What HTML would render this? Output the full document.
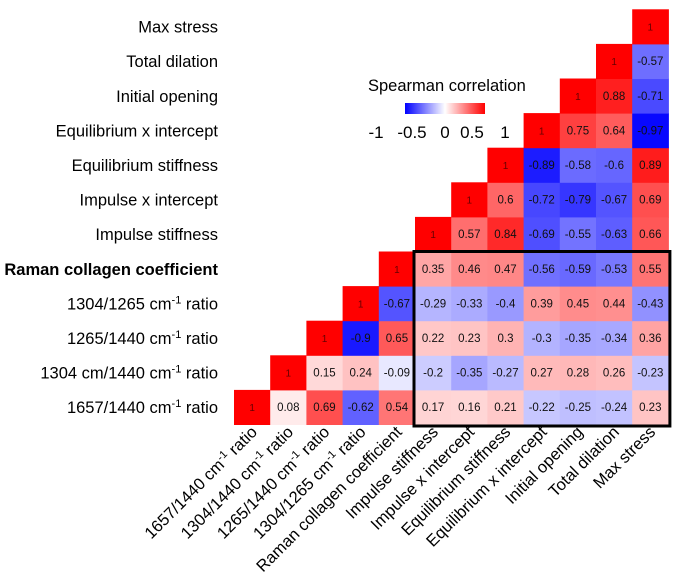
<!DOCTYPE html>
<html><head><meta charset="utf-8"><style>
body{margin:0;background:#fff}
svg{display:block;font-family:"Liberation Sans",Arial,sans-serif}
</style></head><body>
<svg id="chart" width="675" height="585" viewBox="0 0 675 585" xmlns="http://www.w3.org/2000/svg"></svg>
<script>
const variables = [
 ["1657/1440 cm","-1"," ratio"],
 ["1304 cm/1440 cm","-1"," ratio"],
 ["1265/1440  cm","-1"," ratio"],
 ["1304/1265 cm","-1"," ratio"],
 ["Raman collagen coefficient","",""],
 ["Impulse stiffness","",""],
 ["Impulse x intercept","",""],
 ["Equilibrium stiffness","",""],
 ["Equilibrium x intercept","",""],
 ["Initial opening","",""],
 ["Total dilation","",""],
 ["Max stress","",""]
];
const colLabels = [
 ["1657/1440 cm","-1"," ratio"],
 ["1304/1440 cm","-1"," ratio"],
 ["1265/1440 cm","-1"," ratio"],
 ["1304/1265 cm","-1"," ratio"],
 ["Raman collagen coefficient","",""],
 ["Impulse stiffness","",""],
 ["Impulse x intercept","",""],
 ["Equilibrium stiffness","",""],
 ["Equilibrium x intercept","",""],
 ["Initial opening","",""],
 ["Total dilation","",""],
 ["Max stress","",""]
];
const r0 = [1,0.08,0.69,-0.62,0.54,0.17,0.16,0.21,-0.22,-0.25,-0.24,0.23];
const r1 = [1,0.15,0.24,-0.09,-0.2,-0.35,-0.27,0.27,0.28,0.26,-0.23];
const r2 = [1,-0.9,0.65,0.22,0.23,0.3,-0.3,-0.35,-0.34,0.36];
const r3 = [1,-0.67,-0.29,-0.33,-0.4,0.39,0.45,0.44,-0.43];
const r4 = [1,0.35,0.46,0.47,-0.56,-0.59,-0.53,0.55];
const r5 = [1,0.57,0.84,-0.69,-0.55,-0.63,0.66];
const r6 = [1,0.6,-0.72,-0.79,-0.67,0.69];
const r7 = [1,-0.89,-0.58,-0.6,0.89];
const r8 = [1,0.75,0.64,-0.97];
const r9 = [1,0.88,-0.71];
const r10 = [1,-0.57];
const r11 = [1];
const rows = [r0,r1,r2,r3,r4,r5,r6,r7,r8,r9,r10,r11];
const legendTicks = ["-1","-0.5","0","0.5","1"];

const NS="http://www.w3.org/2000/svg";
const svg=document.getElementById('chart');
const X0=234, CW=36.2, YB=424.5, RH=34.6;
const xPos=c=>X0+c*CW;
const yPos=r=>YB-(r+1)*RH;
function color(v){
  v=Math.max(-1,Math.min(1,v));
  const t=Math.abs(v);
  const o=Math.round(255*(1-t));
  return v>=0?`rgb(255,${o},${o})`:`rgb(${o},${o},255)`;
}
function mk(tag,attrs){const e=document.createElementNS(NS,tag);for(const k in attrs)e.setAttribute(k,attrs[k]);svg.appendChild(e);return e;}
function fill(t,parts){
  const a=document.createElementNS(NS,'tspan');a.textContent=parts[0];t.appendChild(a);
  if(parts[1]){const s=document.createElementNS(NS,'tspan');s.setAttribute('baseline-shift','super');s.setAttribute('font-size','11');s.textContent=parts[1];t.appendChild(s);
  const b=document.createElementNS(NS,'tspan');b.textContent=parts[2];t.appendChild(b);}
}
rows.forEach((vals,r)=>{
  vals.forEach((v,k)=>{
    const c=r+k;
    const rect=mk('rect',{x:xPos(c),y:yPos(r),width:CW+0.5,height:RH+0.5,fill:color(v)});
    
    
    const t=mk('text',{x:xPos(c)+CW/2,y:yPos(r)+RH/2+4,'text-anchor':'middle','font-size':v===1?10:11.5,fill:v===1?'#600':'#111'});
    t.textContent=String(v);
    
    
  });
});
variables.forEach((p,r)=>{
  const t=mk('text',{x:218,y:yPos(r)+RH/2+6,'text-anchor':'end','font-size':16.5,'font-weight':r===4?'bold':'normal',fill:'#000'});
  fill(t,p);
  
  
});
colLabels.forEach((p,c)=>{
  const x=xPos(c)+CW/2+6, y=433;
  const t=mk('text',{x:x,y:y,'text-anchor':'end','font-size':16.5,fill:'#000',transform:`rotate(-45 ${x} ${y})`});
  fill(t,p);
  
  
});
const bt=yPos(4);
const box=mk('rect',{x:xPos(5)-1,y:bt,width:xPos(12)-xPos(5)+2.5,height:YB-bt+1.5,fill:'none',stroke:'#000','stroke-width':3});


// legend
const lt=mk('text',{x:368,y:91,'font-size':16.5,fill:'#000'});lt.textContent='Spearman correlation';


const defs=mk('defs',{});
const g=document.createElementNS(NS,'linearGradient');g.setAttribute('id','lg');defs.appendChild(g);
[['0','#0000ff'],['0.5','#ffffff'],['1','#ff0000']].forEach(s=>{const st=document.createElementNS(NS,'stop');st.setAttribute('offset',s[0]);st.setAttribute('stop-color',s[1]);g.appendChild(st);});
const lb=mk('rect',{x:405,y:103,width:80,height:11,fill:'url(#lg)'});


const tickX=[376,412,445,472,505];
legendTicks.forEach((s,i)=>{
  const t=mk('text',{x:tickX[i],y:138,'text-anchor':'middle','font-size':17,fill:'#000'});t.textContent=s;
  
  
});
</script>
</body></html>
